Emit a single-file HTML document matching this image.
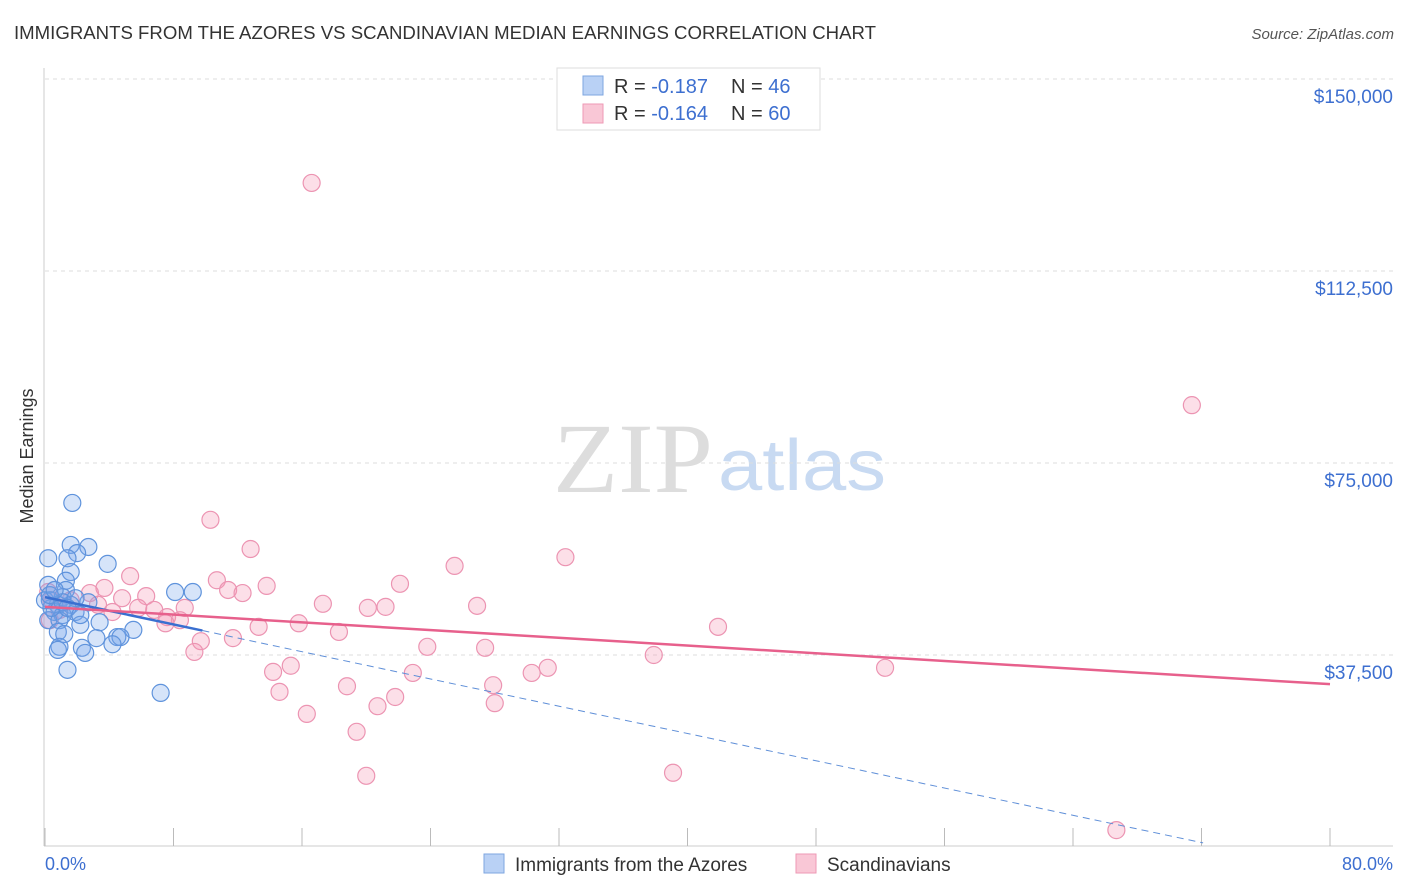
<!DOCTYPE html>
<html><head><meta charset="utf-8"><style>
body{margin:0;background:#fff;font-family:"Liberation Sans",sans-serif;}
svg{display:block}
</style></head><body>
<svg id="chart" width="1406" height="892">
<text x="14" y="39" font-size="18" fill="#333" textLength="862" lengthAdjust="spacingAndGlyphs">IMMIGRANTS FROM THE AZORES VS SCANDINAVIAN MEDIAN EARNINGS CORRELATION CHART</text>
<text x="1394" y="39" font-size="15" fill="#555" font-style="italic" text-anchor="end">Source: ZipAtlas.com</text>
<text transform="translate(33,456) rotate(-90)" font-size="18" fill="#333" text-anchor="middle">Median Earnings</text>
<text x="553" y="492" font-size="100" fill="#ddd" font-family="Liberation Serif,serif" textLength="160" lengthAdjust="spacingAndGlyphs">ZIP</text>
<text x="718" y="490" font-size="72" fill="#c8daf2" textLength="168" lengthAdjust="spacingAndGlyphs">atlas</text>
<g id="grid"></g><g id="pts"></g><g id="trend"></g>
<g>
<rect x="557" y="68" width="263" height="62" fill="#fff" stroke="#ddd"/>
<rect x="583" y="76" width="20" height="19" fill="#b9d1f5" stroke="#7ea6e0"/>
<rect x="583" y="104" width="20" height="19" fill="#f9c7d6" stroke="#ee9ab5"/>
<text x="614" y="93" font-size="20" fill="#333">R = <tspan fill="#3d6fd0">-0.187</tspan><tspan x="731">N = </tspan><tspan fill="#3d6fd0">46</tspan></text>
<text x="614" y="120" font-size="20" fill="#333">R = <tspan fill="#3d6fd0">-0.164</tspan><tspan x="731">N = </tspan><tspan fill="#3d6fd0">60</tspan></text>
</g>
<g>
<rect x="484" y="854" width="20" height="19" fill="#b9d1f5" stroke="#7ea6e0"/>
<text x="515" y="871" font-size="19" fill="#333">Immigrants from the Azores</text>
<rect x="796" y="854" width="20" height="19" fill="#f9c7d6" stroke="#ee9ab5"/>
<text x="827" y="871" font-size="19" fill="#333">Scandinavians</text>
</g>
<text x="45" y="870" font-size="18" fill="#3d6fd0">0.0%</text>
<text x="1393" y="870" font-size="18" fill="#3d6fd0" text-anchor="end">80.0%</text>
</svg>
<script>
const yTicks=[37500,75000,112500,150000];
const yTickLabels=["$37,500","$75,000","$112,500","$150,000"];
const xTicks=[0,8,16,24,32,40,48,56,64,72,80];
const azoresX=[1.7,1.6,2.7,2.0,1.4,0.2,3.9,1.6,1.3,0.2,1.3,8.1,9.2,0.3,1.1,0.8,1.6,2.7,0.6,1.1,1.9,0.2,0.9,2.2,0.8,1.2,5.5,4.5,4.7,3.2,4.2,0.9,0.8,2.3,2.5,1.4,7.2,0.4,0,1.1,0.3,1.9,1.4,0.6,2.2,3.4];
const azoresY=[67.2,59.0,58.6,57.4,56.4,56.4,55.3,53.7,52.0,51.2,50.2,49.8,49.8,48.2,48.8,47.3,47.3,47.8,45.9,45.3,45.9,44.3,44.3,43.4,42.0,41.6,42.4,41.0,41.0,40.8,39.6,39.1,38.5,38.9,37.9,34.6,30.1,46.7,48.2,47.8,49.2,48.6,46.7,50.2,45.3,43.9];
const scandX=[16.6,71.4,10.3,12.8,32.4,25.5,5.3,10.7,13.8,22.1,3.7,11.4,12.3,2.8,6.3,4.8,3.3,8.7,17.3,20.1,21.2,26.9,5.8,6.8,4.2,7.6,8.4,7.5,15.8,13.3,41.9,18.3,11.7,9.7,9.3,23.8,27.4,37.9,15.3,14.2,22.9,31.3,30.3,52.3,18.8,27.9,14.6,21.8,20.7,28.0,16.3,19.4,20.0,39.1,66.7,0.3,0.9,0.4,1.6,0.2];
const scandY=[129.7,86.3,63.9,58.2,56.6,54.9,52.9,52.1,51.0,51.4,50.6,50.2,49.6,49.6,49.0,48.6,47.3,46.7,47.5,46.7,46.9,47.1,46.7,46.3,45.9,44.9,44.3,43.7,43.7,43.0,43.0,42.0,40.8,40.2,38.1,39.1,38.9,37.5,35.4,34.2,34.0,35.0,34.0,35.0,31.4,31.6,30.3,29.3,27.5,28.1,26.0,22.5,13.9,14.5,3.3,44.3,46.3,48.2,48.2,49.8];
const azoresTrend=[48.8,0.8,72.1,9.8];
const scandTrend=[46.9,31.8,80];
const NS="http://www.w3.org/2000/svg";
const X=v=>45+v/80*1285;
const Y=k=>847-k/37.5*192;
function mk(t,a,p){const e=document.createElementNS(NS,t);for(const k in a)e.setAttribute(k,a[k]);p.appendChild(e);return e;}
const grid=document.getElementById('grid');
mk('line',{x1:44,y1:68,x2:44,y2:846,stroke:'#ccc'},grid);
mk('line',{x1:44,y1:846,x2:1393,y2:846,stroke:'#ccc'},grid);
yTicks.forEach((t,i)=>{
 const l=mk('line',{x1:45,x2:1393,y1:Y(t/1000),y2:Y(t/1000),stroke:'#ddd','stroke-dasharray':'4,4'},grid);
 
 
 const tx=mk('text',{x:1393,y:Y(t/1000)+24,'font-size':19,fill:'#3d6fd0','text-anchor':'end'},grid);
 tx.textContent=yTickLabels[i];
 
 
});
xTicks.forEach(t=>{
 const l=mk('line',{x1:X(t),x2:X(t),y1:828,y2:846,stroke:'#bbb'},grid);
 
 
});
const pts=document.getElementById('pts');
scandX.forEach((x,i)=>{
 const c=mk('circle',{cx:X(x),cy:Y(scandY[i]),r:8.5,fill:'rgba(244,150,180,0.3)',stroke:'#ec94b2','stroke-width':1.2},pts);
 
 
});
azoresX.forEach((x,i)=>{
 const c=mk('circle',{cx:X(x),cy:Y(azoresY[i]),r:8.5,fill:'rgba(120,165,235,0.3)',stroke:'#5f93dc','stroke-width':1.2},pts);
 
 
});
const tr=document.getElementById('trend');
const slope=(azoresTrend[1]-azoresTrend[0])/azoresTrend[2];
const a1=mk('line',{x1:X(0),y1:Y(azoresTrend[0]),x2:X(azoresTrend[3]),y2:Y(azoresTrend[0]+slope*azoresTrend[3]),stroke:'#3a6fd0','stroke-width':2.5},tr);


const a2=mk('line',{x1:X(azoresTrend[3]),y1:Y(azoresTrend[0]+slope*azoresTrend[3]),x2:X(azoresTrend[2]),y2:Y(azoresTrend[1]),stroke:'#5f8fd8','stroke-width':1,'stroke-dasharray':'7,5'},tr);


const s1=mk('line',{x1:X(0),y1:Y(scandTrend[0]),x2:X(scandTrend[2]),y2:Y(scandTrend[1]),stroke:'#e7608c','stroke-width':2.5},tr);


</script>
</body></html>
